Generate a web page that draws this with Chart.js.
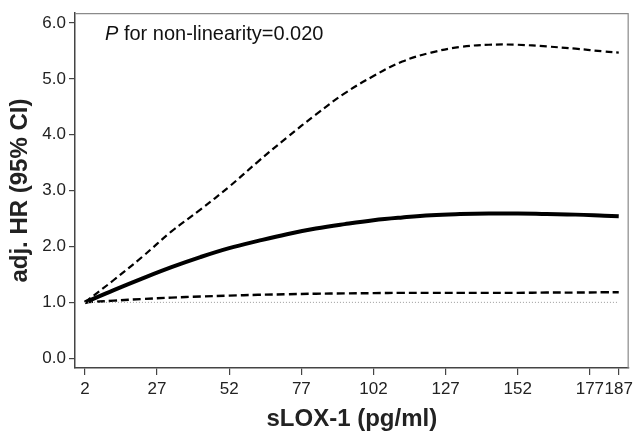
<!DOCTYPE html>
<html>
<head>
<meta charset="utf-8">
<script src="https://cdn.jsdelivr.net/npm/chart.js@4/dist/chart.umd.min.js"></script>
<style>
  html, body { margin: 0; padding: 0; background: #fff; }
  #wrap { width: 637px; height: 440px; }
</style>
</head>
<body>
<div id="wrap"><canvas id="grafico"></canvas></div>
<script>
// sLOX-1 (pg/ml) grid and the spline fit with its 95% CI
const sLox = [2, 12, 22, 32, 42, 52, 62, 72, 82, 92, 102, 112, 122, 132, 142, 152, 162, 172, 182, 187];
const hr = [1.00, 1.22, 1.43, 1.63, 1.81, 1.97, 2.10, 2.22, 2.32, 2.40, 2.47, 2.52, 2.56, 2.58, 2.59, 2.59, 2.58, 2.57, 2.55, 2.54];
const ciSup = [1.00, 1.40, 1.82, 2.27, 2.66, 3.07, 3.52, 3.95, 4.36, 4.74, 5.05, 5.31, 5.47, 5.57, 5.61, 5.61, 5.58, 5.54, 5.49, 5.47];
const ciInf = [1.00, 1.03, 1.06, 1.085, 1.105, 1.12, 1.135, 1.145, 1.155, 1.16, 1.165, 1.17, 1.17, 1.17, 1.17, 1.17, 1.175, 1.175, 1.18, 1.18];
const refX = [2, 187];
const refY = [1.0, 1.0];
const xTicks = [2, 27, 52, 77, 102, 127, 152, 177, 187];
const yTicks = [0, 1, 2, 3, 4, 5, 6];
const textoP = 'for non-linearity=0.020';

const pts = (xs, ys) => xs.map((x, i) => ({x, y: ys[i]}));
const FONTE = "'Liberation Sans', Arial, sans-serif";

// moldura: topo e direita em cinza claro, mais o texto do P
const moldura = {
  id: 'moldura',
  afterDraw(chart) {
    const {ctx, chartArea: a} = chart;
    ctx.save();
    ctx.strokeStyle = '#8a8a8a';
    ctx.lineWidth = 1.2;
    ctx.beginPath();
    ctx.moveTo(a.left, a.top + 0.5);
    ctx.lineTo(a.right - 0.5, a.top + 0.5);
    ctx.lineTo(a.right - 0.5, a.bottom);
    ctx.stroke();
    ctx.fillStyle = '#111';
    ctx.textBaseline = 'alphabetic';
    ctx.font = 'italic 20px ' + FONTE;
    const x0 = 105, y0 = 40;
    ctx.fillText('P', x0, y0);
    const w = ctx.measureText('P ').width;
    ctx.font = '20px ' + FONTE;
    ctx.fillText(textoP, x0 + w, y0);
    ctx.restore();
  }
};

new Chart(document.getElementById('grafico'), {
  type: 'line',
  data: {
    datasets: [
      {data: pts(refX, refY), borderColor: '#9a9a9a', borderWidth: 1, borderDash: [1, 2], pointRadius: 0},
      {data: pts(sLox, ciInf), borderColor: '#000', borderWidth: 2.4, borderDash: [8, 4], pointRadius: 0, tension: 0.4},
      {data: pts(sLox, ciSup), borderColor: '#000', borderWidth: 2.2, borderDash: [7, 4], pointRadius: 0, tension: 0.4},
      {data: pts(sLox, hr), borderColor: '#000', borderWidth: 4, pointRadius: 0, tension: 0.4}
    ]
  },
  options: {
    responsive: true,
    maintainAspectRatio: false,
    animation: false,
    layout: {padding: {top: 5, right: 4, left: 0, bottom: 0}},
    plugins: {legend: {display: false}, tooltip: {enabled: false}},
    scales: {
      x: {
        type: 'linear',
        min: -1.44, max: 190.44,
        afterBuildTicks: s => { s.ticks = xTicks.map(v => ({value: v})); },
        afterFit: s => { s.height = 72; },
        grid: {display: true, drawOnChartArea: false, drawTicks: true, tickLength: 7, color: '#444', lineWidth: 1.2},
        border: {display: true, color: '#444', width: 1.5},
        ticks: {autoSkip: false, maxRotation: 0, padding: 4, color: '#222', font: {family: FONTE, size: 17}},
        title: {display: true, text: 'sLOX-1 (pg/ml)', color: '#222', padding: {top: 0, bottom: 6}, font: {family: FONTE, size: 24, weight: 'bold'}}
      },
      y: {
        min: -0.175, max: 6.175,
        afterBuildTicks: s => { s.ticks = yTicks.map(v => ({value: v})); },
        afterFit: s => { s.width = 75; },
        grid: {display: true, drawOnChartArea: false, drawTicks: true, tickLength: 6, color: '#444', lineWidth: 1.2},
        border: {display: true, color: '#444', width: 1.5},
        ticks: {padding: 3, color: '#222', font: {family: FONTE, size: 17}, callback: v => v.toFixed(1)},
        title: {display: true, text: 'adj. HR (95% CI)', color: '#222', padding: {top: 6, bottom: 0}, font: {family: FONTE, size: 24, weight: 'bold'}}
      }
    }
  },
  plugins: [moldura]
});
</script>
</body>
</html>
